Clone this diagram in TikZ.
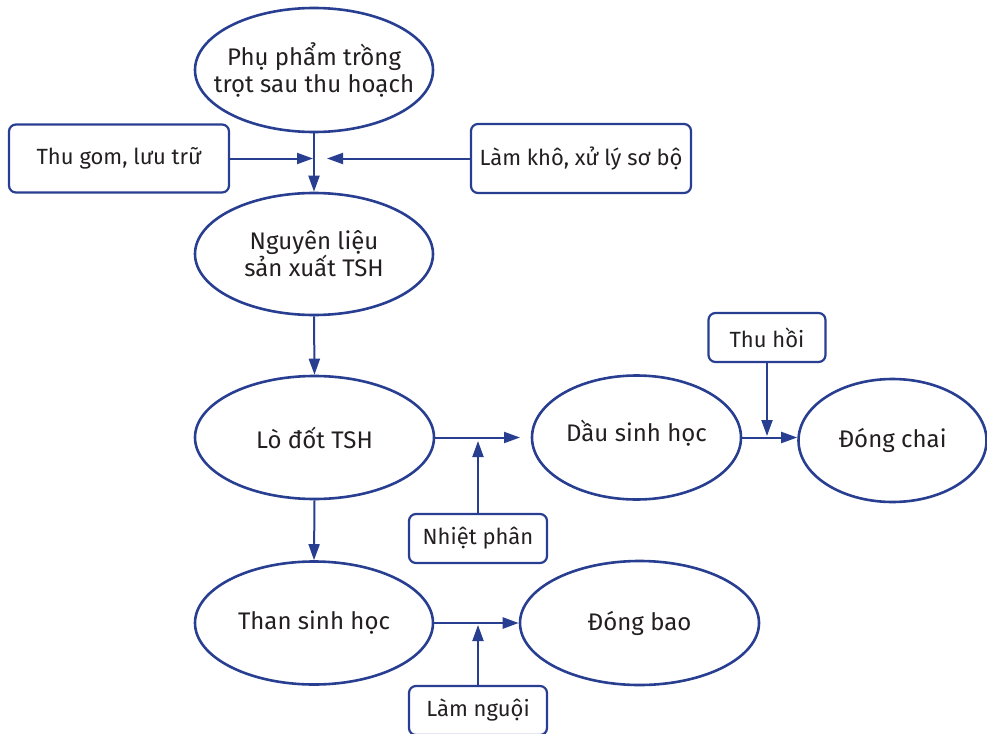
\documentclass[tikz,border=0pt]{standalone}
\usepackage{fontspec}
\setmainfont{Fira Sans}
\usetikzlibrary{shapes.geometric,arrows.meta}
\definecolor{flowblue}{RGB}{40,62,145}
\definecolor{inkgray}{RGB}{35,31,32}
\tikzset{
  bubble/.style={ellipse, draw=flowblue, line width=2.6pt, inner sep=0pt},
  bubbletext/.style={text=inkgray, align=center,
    font=\fontsize{24}{27}\selectfont},
  stepbox/.style={rectangle, rounded corners=7pt, draw=flowblue,
    line width=2.2pt, text=inkgray, align=center, inner sep=0pt,
    font=\fontsize{22}{26}\selectfont},
  flow/.style={draw=flowblue, line width=2pt,
    -{Triangle[length=16pt,width=11pt]}}
}
\begin{document}
\begin{tikzpicture}[x=1pt,y=-1pt]
\useasboundingbox (0,0) rectangle (987,733);
\clip (0,0) rectangle (987,733);

% main column of ellipses
\node[bubble, minimum width=238pt, minimum height=124pt,
  label={[bubbletext]center:{Phụ phẩm trồng\\trọt sau thu hoạch}}] (crop) at (314,70) {};
\node[bubble, minimum width=238pt, minimum height=122pt,
  label={[bubbletext]center:{Nguyên liệu\\sản xuất TSH}}] (feed) at (314,254) {};
\node[bubble, minimum width=239pt, minimum height=123pt,
  label={[bubbletext]center:{Lò đốt TSH}}] (kiln) at (314.5,437.5) {};
\node[bubble, minimum width=238pt, minimum height=123pt,
  label={[bubbletext]center:{Than sinh học}}] (char) at (314,623) {};

% product branches
\node[bubble, minimum width=209pt, minimum height=124pt,
  label={[bubbletext, yshift=4pt]center:{Dầu sinh học}}] (oil) at (636.5,437.5) {};
\node[bubble, minimum width=188pt, minimum height=123pt,
  label={[bubbletext]center:{Đóng chai}}] (bottle) at (892.5,440.5) {};
\node[bubble, minimum width=239pt, minimum height=124pt,
  label={[bubbletext]center:{Đóng bao}}] (bag) at (639.5,623) {};

% process steps
\node[stepbox, minimum width=220pt, minimum height=68pt] (gather) at (119,158.5) {Thu gom, lưu trữ};
\node[stepbox, minimum width=220pt, minimum height=69pt] (dry) at (581,158.5) {Làm khô, xử lý sơ bộ};
\node[stepbox, minimum width=117pt, minimum height=49pt] (recover) at (767,337.5) {Thu hồi};
\node[stepbox, minimum width=138pt, minimum height=49pt] (pyro) at (478,538.5) {Nhiệt phân};
\node[stepbox, minimum width=138pt, minimum height=49pt] (cool) at (478,710.5) {Làm nguội};

% free ends of the side arrows
\coordinate (mergeL) at (313,158.5);
\coordinate (mergeR) at (327,158.5);
\coordinate (oilin) at (520,437.5);
\coordinate (pyroin) at (478,441);
\coordinate (recin) at (767,436);
\coordinate (coolin) at (478,625);

% connectors
\draw[flow] (crop.south) -- (feed.north);
\draw[flow] (gather.east) -- (mergeL);
\draw[flow] (dry.west) -- (mergeR);
\draw[flow] (feed.south) -- (kiln.north);
\draw[flow] (kiln.south) -- (char.north);
\draw[flow] (kiln.east) -- (oilin);
\draw[flow] (pyro.north) -- (pyroin);
\draw[flow] (oil.east) -- (oil.east -| bottle.west);
\draw[flow] (recover.south) -- (recin);
\draw[flow, line width=2.6pt] (char.east) -- (bag.west);
\draw[flow] (cool.north) -- (coolin);
\end{tikzpicture}
\end{document}
